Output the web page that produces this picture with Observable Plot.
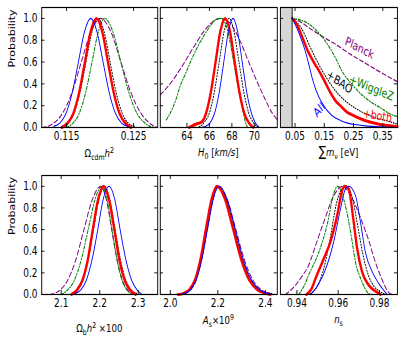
<!DOCTYPE html>
<html><head><meta charset="utf-8">
<script src="https://cdn.jsdelivr.net/npm/d3@7"></script>
<script src="https://cdn.jsdelivr.net/npm/@observablehq/plot@0.6"></script>
<style>
html,body{margin:0;padding:0;background:#fff;overflow:hidden;width:407px;height:339px;}
#fig{position:absolute;left:0;top:0;height:339px;transform-origin:0 0;}
.panel{position:absolute;}
</style></head><body><div id="fig"></div>
<script>
// ---------- data ----------
const yDomain = [0, 1.1];
const yTicks = [0, 0.2, 0.4, 0.6, 0.8, 1.0];
const yTickLabels = ["0.0", "0.2", "0.4", "0.6", "0.8", "1.0"];

// Omega_cdm h^2
const omcDomain = [0.1113, 0.1286];
const omcTicks = [0.115, 0.125];
const omcTickLabels = ["0.115", "0.125"];
const omcPlanck = [[0.1114,0],[0.11285,0.03],[0.1143,0.12],[0.11575,0.31],[0.1172,0.6],[0.11865,0.88],[0.1201,1],[0.1216,0.88],[0.1231,0.6],[0.1246,0.32],[0.1261,0.13],[0.1276,0.03],[0.1285,0]];
const omcWiggleZ = [[0.115,0],[0.11595,0.04],[0.1169,0.13],[0.11785,0.32],[0.1188,0.6],[0.11975,0.88],[0.1207,1],[0.1219,0.88],[0.1231,0.6],[0.1243,0.32],[0.1255,0.13],[0.1267,0.04],[0.1279,0]];
const omcBAO = [[0.1143,0.01],[0.1152,0.04],[0.1161,0.13],[0.117,0.32],[0.1179,0.6],[0.1188,0.88],[0.1197,1],[0.1206,0.88],[0.1215,0.6],[0.1224,0.32],[0.1233,0.13],[0.1242,0.04],[0.1251,0.01]];
const omcBoth = [[0.1143,0],[0.11516,0.04],[0.11602,0.13],[0.11688,0.32],[0.11774,0.6],[0.1186,0.88],[0.11946,1],[0.12032,0.88],[0.12118,0.6],[0.12204,0.32],[0.1229,0.13],[0.12376,0.04],[0.12462,0]];
const omcAll = [[0.11309,0.01],[0.11401,0.04],[0.11493,0.13],[0.11585,0.32],[0.11677,0.6],[0.11769,0.88],[0.11861,1],[0.11953,0.88],[0.12045,0.6],[0.12137,0.32],[0.12229,0.13],[0.12321,0.04],[0.12413,0.01]];

// H0
const h0Domain = [61.63, 72.04];
const h0Ticks = [64, 66, 68, 70];
const h0TickLabels = ["64", "66", "68", "70"];
const h0Planck = [[61.63,0.3],[62.5,0.4],[63.5,0.55],[64.5,0.72],[65.5,0.88],[66.3,0.97],[66.96,1],[67.8,0.96],[68.7,0.8],[69.5,0.6],[70.2,0.43],[71.0,0.25],[71.6,0.13],[72.04,0.07]];
const h0WiggleZ = [[62.16,0.07],[62.6,0.15],[63.0,0.25],[63.4,0.38],[63.9,0.5],[64.4,0.62],[64.9,0.73],[65.5,0.84],[66.07,0.93],[66.6,0.99],[67.05,1],[67.5,0.93],[67.9,0.75],[68.3,0.52],[68.7,0.3],[69.0,0.15],[69.2,0.05],[69.4,0]];
const h0BAO = [[64.9,0],[65.3,0.02],[65.55,0.05],[65.99,0.13],[66.43,0.32],[66.87,0.6],[67.31,0.88],[67.75,1],[68.19,0.88],[68.63,0.6],[69.07,0.32],[69.51,0.13],[69.95,0.04],[70.35,0]];
const h0Both = [[64.2,0],[64.8,0.03],[65.3,0.05],[65.7,0.13],[66.12,0.32],[66.55,0.6],[66.97,0.88],[67.4,1],[67.83,0.88],[68.25,0.6],[68.68,0.32],[69.1,0.13],[69.53,0.04],[69.9,0]];
const h0All = [[65.2,0],[65.64,0.01],[66.05,0.04],[66.46,0.13],[66.87,0.32],[67.28,0.6],[67.69,0.88],[68.1,1],[68.51,0.88],[68.92,0.6],[69.33,0.32],[69.74,0.13],[70.1,0.04],[70.45,0]];

// sum m_nu
const mnuDomain = [0, 0.4];
const mnuTicks = [0.05, 0.15, 0.25, 0.35];
const mnuTickLabels = ["0.05", "0.15", "0.25", "0.35"];
const mnuShade = [0, 0.04];
const mnuPlanck = [[0.04,1],[0.06,0.98],[0.1,0.91],[0.14,0.84],[0.19,0.76],[0.24,0.67],[0.29,0.59],[0.34,0.51],[0.4,0.42]];
const mnuWiggleZ = [[0.04,1],[0.063,0.99],[0.097,0.95],[0.13,0.87],[0.154,0.79],[0.188,0.64],[0.21,0.52],[0.25,0.38],[0.291,0.27],[0.342,0.18],[0.387,0.11],[0.4,0.1]];
const mnuBAO = [[0.04,1],[0.074,0.9],[0.103,0.73],[0.137,0.55],[0.171,0.4],[0.2,0.3],[0.228,0.23],[0.26,0.17],[0.296,0.12],[0.33,0.085],[0.365,0.06],[0.4,0.03]];
const mnuBoth = [[0.04,1],[0.055,0.95],[0.07,0.86],[0.094,0.7],[0.114,0.6],[0.134,0.51],[0.15,0.43],[0.171,0.32],[0.19,0.24],[0.205,0.2],[0.228,0.14],[0.25,0.11],[0.274,0.08],[0.3,0.055],[0.33,0.035],[0.36,0.02],[0.4,0.008]];
const mnuAll = [[0.04,1],[0.046,0.97],[0.065,0.855],[0.085,0.7],[0.097,0.58],[0.108,0.46],[0.122,0.34],[0.148,0.2],[0.174,0.115],[0.205,0.065],[0.23,0.04],[0.262,0.025],[0.3,0.013],[0.342,0.006],[0.4,0]];
const mnuLabelText = ["Planck", "+WiggleZ", "+BAO", "+both", "All"];
const mnuLabelX = [0.27, 0.311, 0.202, 0.332, 0.133];
const mnuLabelY = [0.728, 0.362, 0.417, 0.107, 0.162];
const mnuLabelAngle = [28, 23, 35, 9.5, -50];

// Omega_b h^2 x100
const obhDomain = [2.0494, 2.3506];
const obhTicks = [2.1, 2.2, 2.3];
const obhTickLabels = ["2.1", "2.2", "2.3"];
const obhPlanck = [[2.071,0],[2.093,0.03],[2.115,0.12],[2.137,0.31],[2.159,0.6],[2.181,0.88],[2.203,1],[2.217,0.88],[2.231,0.6],[2.245,0.32],[2.259,0.13],[2.273,0.04],[2.287,0]];
const obhWiggleZ = [[2.1,0],[2.116,0.04],[2.134,0.13],[2.152,0.32],[2.17,0.6],[2.188,0.88],[2.206,1],[2.219,0.88],[2.232,0.6],[2.245,0.32],[2.258,0.13],[2.271,0.04],[2.284,0]];
const obhBAO = [[2.128,0.01],[2.142,0.04],[2.156,0.13],[2.17,0.32],[2.184,0.6],[2.198,0.88],[2.212,1],[2.226,0.88],[2.24,0.6],[2.254,0.32],[2.268,0.13],[2.282,0.04],[2.296,0.01]];
const obhBoth = [[2.127,0],[2.141,0.04],[2.155,0.13],[2.169,0.32],[2.182,0.6],[2.196,0.88],[2.21,1],[2.224,0.88],[2.238,0.6],[2.251,0.32],[2.265,0.13],[2.279,0.04],[2.293,0]];
const obhAll = [[2.136,0.01],[2.1505,0.04],[2.165,0.13],[2.18,0.32],[2.195,0.6],[2.209,0.88],[2.224,1],[2.239,0.88],[2.253,0.6],[2.268,0.32],[2.283,0.13],[2.2975,0.04],[2.31,0]];

// A_s x10^9
const asDomain = [1.958, 2.45];
const asTicks = [2.0, 2.2, 2.4];
const asTickLabels = ["2.0", "2.2", "2.4"];
const asPlanck = [[2.036,0],[2.062,0.011],[2.085,0.044],[2.109,0.135],[2.132,0.325],[2.156,0.607],[2.18,0.882],[2.203,1],[2.239,0.882],[2.275,0.607],[2.311,0.325],[2.347,0.135],[2.383,0.044],[2.419,0.011],[2.44,0]];
const asWiggleZ = [[2.036,0],[2.061,0.011],[2.085,0.044],[2.108,0.135],[2.131,0.325],[2.154,0.607],[2.177,0.882],[2.2,1],[2.234,0.882],[2.268,0.607],[2.302,0.325],[2.336,0.135],[2.37,0.044],[2.404,0.011],[2.424,0]];
const asBAO = [[2.036,0],[2.06,0.011],[2.084,0.044],[2.108,0.135],[2.131,0.325],[2.154,0.607],[2.177,0.882],[2.2,1],[2.235,0.882],[2.27,0.607],[2.304,0.325],[2.338,0.135],[2.372,0.044],[2.406,0.011],[2.426,0]];
const asBoth = [[2.032,0],[2.056,0.011],[2.08,0.044],[2.104,0.135],[2.127,0.325],[2.15,0.607],[2.174,0.882],[2.196,1],[2.23,0.882],[2.264,0.607],[2.298,0.325],[2.332,0.135],[2.366,0.044],[2.4,0.011],[2.42,0]];
const asAll = [[2.037,0],[2.061,0.011],[2.085,0.044],[2.109,0.135],[2.133,0.325],[2.157,0.607],[2.181,0.882],[2.205,1],[2.239,0.882],[2.273,0.607],[2.307,0.325],[2.341,0.135],[2.375,0.044],[2.409,0.011],[2.43,0]];

// n_s
const nsDomain = [0.932, 0.9887];
const nsTicks = [0.94, 0.96, 0.98];
const nsTickLabels = ["0.94", "0.96", "0.98"];
const nsPlanck = [[0.9344,0],[0.937,0.04],[0.9393,0.086],[0.9425,0.17],[0.9457,0.27],[0.949,0.45],[0.953,0.67],[0.9578,0.91],[0.962,1],[0.9665,0.9],[0.971,0.7],[0.9748,0.5],[0.978,0.3],[0.981,0.15],[0.9844,0.02],[0.986,0]];
const nsWiggleZ = [[0.9409,0],[0.9435,0.08],[0.9457,0.18],[0.9506,0.39],[0.9546,0.64],[0.9578,0.93],[0.9597,1],[0.9635,0.82],[0.966,0.58],[0.9684,0.3],[0.9716,0.116],[0.974,0.024],[0.9755,0]];
const nsBAO = [[0.9455,0],[0.9486,0.04],[0.9512,0.13],[0.9538,0.3],[0.9564,0.55],[0.959,0.83],[0.9616,0.97],[0.9642,1],[0.9668,0.9],[0.9694,0.64],[0.972,0.37],[0.9746,0.18],[0.9772,0.08],[0.98,0.03],[0.983,0]];
const nsBoth = [[0.9446,0],[0.947,0.05],[0.949,0.147],[0.953,0.331],[0.9562,0.485],[0.9595,0.73],[0.9619,0.96],[0.963,1],[0.9651,0.976],[0.9671,0.73],[0.9692,0.424],[0.9716,0.208],[0.9748,0.086],[0.9781,0.03],[0.9805,0]];
const nsAll = [[0.9465,0],[0.9485,0.04],[0.9506,0.1],[0.9546,0.27],[0.9578,0.485],[0.9611,0.79],[0.9635,0.976],[0.9651,1],[0.9684,0.914],[0.9708,0.67],[0.9732,0.39],[0.9765,0.21],[0.9797,0.1],[0.982,0.04],[0.9837,0]];

// axis titles (rich text parts)
const omcTitle = [{t:"Ω"},{t:"cdm",sub:1},{t:"h",it:1},{t:"2",sup:1}];
const h0Title = [{t:"H",it:1},{t:"0",sub:1},{t:" ["},{t:"km/s",it:1},{t:"]"}];
const mnuTitle = [{t:"∑",big:1},{t:"m",it:1},{t:"ν",sub:1},{t:" [eV]"}];
const obhTitle = [{t:"Ω"},{t:"b",sub:1},{t:"h",it:1},{t:"2",sup:1},{t:" ×100"}];
const asTitle = [{t:"A",it:1},{t:"s",sub:1},{t:"×10"},{t:"9",sup:1}];
const nsTitle = [{t:"n",it:1},{t:"s",sub:1}];
const yTitle = "Probability";

// ---------- styling / layout ----------
const S = 0.78; // horizontal compression of the reference image
const seriesStyle = [
  {stroke:"#800080", width:1.2, dash:"5,3"},
  {stroke:"#008000", width:1.3, dash:"3,2,1,2"},
  {stroke:"#000000", width:1.2, dash:"1,2"},
  {stroke:"#ff0000", width:3, dash:null},
  {stroke:"#0000ff", width:1.1, dash:null}
];
const labelColors = ["#800080", "#008000", "#000000", "#ff0000", "#0000ff"];

const panels = [
  {left:41, top:7, w:116, h:120, domain:omcDomain, ticks:omcTicks, tl:omcTickLabels, curves:[omcPlanck,omcWiggleZ,omcBAO,omcBoth,omcAll], title:omcTitle, tdy:26, ylab:true},
  {left:160, top:7, w:117, h:120, domain:h0Domain, ticks:h0Ticks, tl:h0TickLabels, curves:[h0Planck,h0WiggleZ,h0BAO,h0Both,h0All], title:h0Title, tdy:25},
  {left:280, top:7, w:117, h:120, domain:mnuDomain, ticks:mnuTicks, tl:mnuTickLabels, curves:[mnuPlanck,mnuWiggleZ,mnuBAO,mnuBoth,mnuAll], title:mnuTitle, tdy:25, shade:mnuShade, annot:true},
  {left:41, top:175, w:116, h:119, domain:obhDomain, ticks:obhTicks, tl:obhTickLabels, curves:[obhPlanck,obhWiggleZ,obhBAO,obhBoth,obhAll], title:obhTitle, tdy:34, ylab:true},
  {left:160, top:175, w:117, h:119, domain:asDomain, ticks:asTicks, tl:asTickLabels, curves:[asPlanck,asWiggleZ,asBAO,asBoth,asAll], title:asTitle, tdy:26},
  {left:280, top:175, w:117, h:119, domain:nsDomain, ticks:nsTicks, tl:nsTickLabels, curves:[nsPlanck,nsWiggleZ,nsBAO,nsBoth,nsAll], title:nsTitle, tdy:25}
];

const fig = document.getElementById("fig");
fig.style.width = (407 / S) + "px";
fig.style.transform = `scaleX(${S})`;
const ML = 45, MR = 6, MT = 6, MB = 45;
const FONT = "DejaVu Sans";
const TICKFS = 11.5;

for (const P of panels) {
  const fw = P.w / S;
  const W = fw + ML + MR, H = P.h + MT + MB;
  const marks = [];
  if (P.shade) {
    marks.push(Plot.rect([P.shade], {x1: d => d[0], x2: d => d[1], y1: yDomain[0], y2: yDomain[1], fill: "#d6d6d6"}));
  }
  P.curves.forEach((c, i) => {
    const st = seriesStyle[i];
    const o = {x: d => d[0], y: d => d[1], stroke: st.stroke, strokeWidth: st.width, curve: "monotone-x"};
    if (st.dash) o.strokeDasharray = st.dash;
    marks.push(Plot.line(c, o));
  });
  if (P.shade) marks.push(Plot.ruleX([P.shade[1]], {x: d => d, stroke: "black", strokeWidth: 1.2}));
  marks.push(Plot.frame({stroke: "black", strokeWidth: 1.2}));
  marks.push(Plot.tickX(P.ticks, {x: d => d, insetTop: P.h - 4, stroke: "black"}));
  marks.push(Plot.tickX(P.ticks, {x: d => d, insetBottom: P.h - 4, stroke: "black"}));
  marks.push(Plot.tickY(yTicks, {y: d => d, insetRight: fw - 4, stroke: "black"}));
  marks.push(Plot.tickY(yTicks, {y: d => d, insetLeft: fw - 4, stroke: "black"}));
  marks.push(Plot.text(P.ticks, {x: d => d, text: (d, i) => P.tl[i], frameAnchor: "bottom", lineAnchor: "top", dy: 4.5, fontSize: TICKFS}));
  if (P.ylab) {
    marks.push(Plot.text(yTicks, {y: d => d, text: (d, i) => yTickLabels[i], frameAnchor: "left", textAnchor: "end", dx: -5.5, fontSize: TICKFS}));
    marks.push(Plot.text([yTitle], {text: d => d, frameAnchor: "left", rotate: -90, dx: (12 - P.left) / S, fontSize: 11}));
  }
  if (P.annot) {
    mnuLabelText.forEach((t, i) => {
      const phi = mnuLabelAngle[i] * Math.PI / 180;
      const theta = Math.atan(S * Math.tan(phi)) * 180 / Math.PI;
      marks.push(Plot.text([t], {x: () => mnuLabelX[i], y: () => mnuLabelY[i], text: d => d, rotate: theta, fill: labelColors[i], fontSize: 12}));
    });
  }
  const chart = Plot.plot({
    width: W, height: H,
    marginLeft: ML, marginRight: MR, marginTop: MT, marginBottom: MB,
    x: {domain: P.domain, axis: null},
    y: {domain: yDomain, axis: null},
    style: {background: "transparent", overflow: "visible", maxWidth: "none", fontFamily: FONT, fontSize: "11px", color: "black"},
    marks
  });
  // rich-text axis title
  const svg = d3.select(chart);
  const txt = svg.append("text")
    .attr("x", ML + fw / 2)
    .attr("y", MT + P.h + P.tdy + 4)
    .attr("text-anchor", "middle")
    .attr("font-family", FONT)
    .attr("font-size", 11)
    .attr("fill", "black");
  let cur = 0;
  for (const part of P.title) {
    const want = part.sub ? 3 : part.sup ? -4 : 0;
    const ts = txt.append("tspan").text(part.t);
    if (want !== cur) ts.attr("dy", want - cur);
    cur = want;
    if (part.it) ts.attr("font-style", "italic");
    if (part.sub || part.sup) ts.attr("font-size", 8);
    if (part.big) ts.attr("font-size", 14);
  }
  const div = document.createElement("div");
  div.className = "panel";
  div.style.left = (P.left / S - ML) + "px";
  div.style.top = (P.top - MT) + "px";
  div.style.width = W + "px";
  div.style.height = H + "px";
  div.appendChild(chart);
  fig.appendChild(div);
}
</script></body></html>
